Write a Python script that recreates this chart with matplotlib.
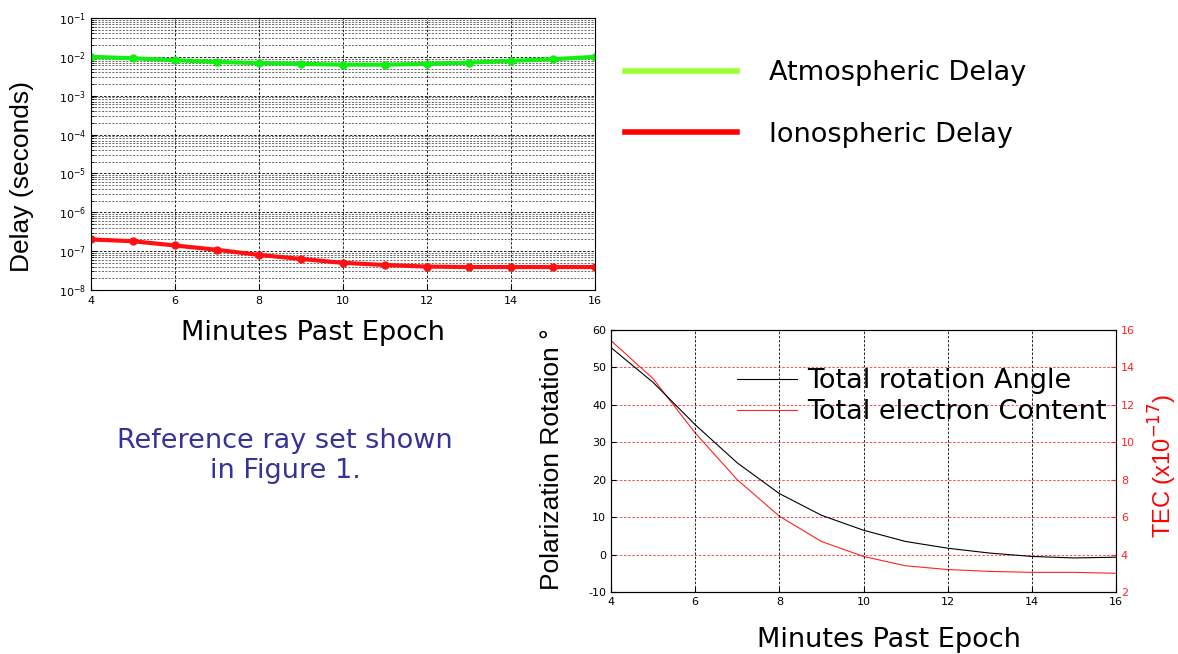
import matplotlib
matplotlib.use("Agg")
import matplotlib.pyplot as plt
from matplotlib.lines import Line2D

plt.rcParams['font.family'] = ['DejaVu Sans']
plt.rcParams['axes.unicode_minus'] = False

minutes = [4, 5, 6, 7, 8, 9, 10, 11, 12, 13, 14, 15, 16]
atmospheric_delay = [1.0e-2, 9.2e-3, 8.2e-3, 7.4e-3, 6.9e-3, 6.6e-3, 6.3e-3,
                     6.3e-3, 6.6e-3, 7.1e-3, 7.9e-3, 8.7e-3, 1.0e-2]
ionospheric_delay = [2.0e-7, 1.8e-7, 1.4e-7, 1.08e-7, 8.0e-8, 6.3e-8, 5.0e-8,
                     4.4e-8, 4.0e-8, 3.9e-8, 3.9e-8, 3.9e-8, 3.9e-8]
rotation_angle = [55.3, 46.0, 34.7, 24.5, 16.3, 10.5, 6.5, 3.5, 1.7, 0.4, -0.5, -0.9, -0.7]
tec = [15.43, 13.4, 10.5, 8.0, 6.05, 4.7, 3.9, 3.4, 3.2, 3.1, 3.05, 3.05, 3.0]

W, H = 1178, 654
fig = plt.figure(figsize=(W / 100, H / 100), dpi=100)

def box(l, t, r, b):
    return [l / W, 1 - b / H, (r - l) / W, (b - t) / H]

def fx(x):
    return x / W

def fy(y):
    return 1 - y / H

HFONT = 19.5          # horizontal large text
VFAM = ['Liberation Sans', 'DejaVu Sans']

# ---- Top chart ----
ax1 = fig.add_axes(box(91, 18, 595, 290))
ax1.semilogy(minutes, atmospheric_delay, color='#11ee11', lw=3, marker='o', ms=5)
ax1.semilogy(minutes, ionospheric_delay, color='#ff1111', lw=3, marker='o', ms=5)
ax1.set_xlim(4, 16)
ax1.set_ylim(1e-8, 1e-1)
ax1.set_xticks([4, 6, 8, 10, 12, 14, 16])
ax1.grid(True, which='major', color='black', ls='--', lw=0.6, dashes=(3, 2))
ax1.grid(True, which='minor', axis='y', color='#333333', ls='--', lw=0.5, dashes=(3, 2))
ax1.tick_params(labelsize=8, direction='in', which='both')
ax1.tick_params(axis='x', pad=4)

fig.text(fx(22), fy(176), 'Delay (seconds)', rotation=90, ha='center', va='center',
         family=VFAM, fontsize=19)
fig.text(fx(313), fy(333), 'Minutes Past Epoch', ha='center', va='center', fontsize=HFONT)

# top legend
leg_handles = [Line2D([0], [0], color='#99ff33', lw=4),
               Line2D([0], [0], color='#ff0000', lw=4)]
fig.legend(leg_handles, ['Atmospheric Delay', 'Ionospheric Delay'],
           loc='upper left', bbox_to_anchor=(fx(625), fy(60)),
           frameon=False, fontsize=HFONT, handlelength=4.15, handletextpad=1.15,
           labelspacing=1.32, borderpad=0, borderaxespad=0)

# ---- Text ----
fig.text(fx(285), fy(456), 'Reference ray set shown\nin Figure 1.',
         color='#333399', fontsize=HFONT, ha='center', va='center', linespacing=1.15)

# ---- Bottom chart ----
ax2 = fig.add_axes(box(611, 330, 1116, 592))
ax2.plot(minutes, rotation_angle, color='black', lw=0.8)
ax2.set_xlim(4, 16)
ax2.set_ylim(-10, 60)
ax2.set_xticks([4, 6, 8, 10, 12, 14, 16])
ax2.set_yticks(range(-10, 61, 10))
ax2.xaxis.grid(True, color='black', ls='--', lw=0.6, dashes=(3, 2))
ax2.tick_params(labelsize=8, direction='in')

ax3 = ax2.twinx()
ax3.plot(minutes, tec, color='#ff2222', lw=0.8)
ax3.set_ylim(2, 16)
ax3.set_yticks(range(2, 17, 2))
ax3.yaxis.grid(True, color='#ff3333', ls='--', lw=0.6, dashes=(3, 2))
ax3.tick_params(labelsize=8, direction='in', colors='#ff2222')
ax3.spines['right'].set_color('#ff2222')
ax3.set_zorder(ax2.get_zorder() - 1)
ax2.patch.set_visible(False)

fig.text(fx(552), fy(459), 'Polarization Rotation °', rotation=90, ha='center',
         va='center', family=VFAM, fontsize=19)
fig.text(fx(1163), fy(466), 'TEC (x10$^{-17}$)', rotation=90, ha='center',
         va='center', color='#ff0000', family=VFAM, fontsize=17)
fig.text(fx(889), fy(640), 'Minutes Past Epoch', ha='center', va='center', fontsize=HFONT)

h2 = [Line2D([0], [0], color='black', lw=0.8), Line2D([0], [0], color='#ff2222', lw=0.8)]
ax2.legend(h2, ['Total rotation Angle', 'Total electron Content'],
           loc='upper left', bbox_to_anchor=(fx(737), fy(368)),
           bbox_transform=fig.transFigure, frameon=False, fontsize=HFONT,
           handlelength=2.2, handletextpad=0.4, labelspacing=0.19,
           borderpad=0, borderaxespad=0)

fig.savefig('out.png', dpi=100)
